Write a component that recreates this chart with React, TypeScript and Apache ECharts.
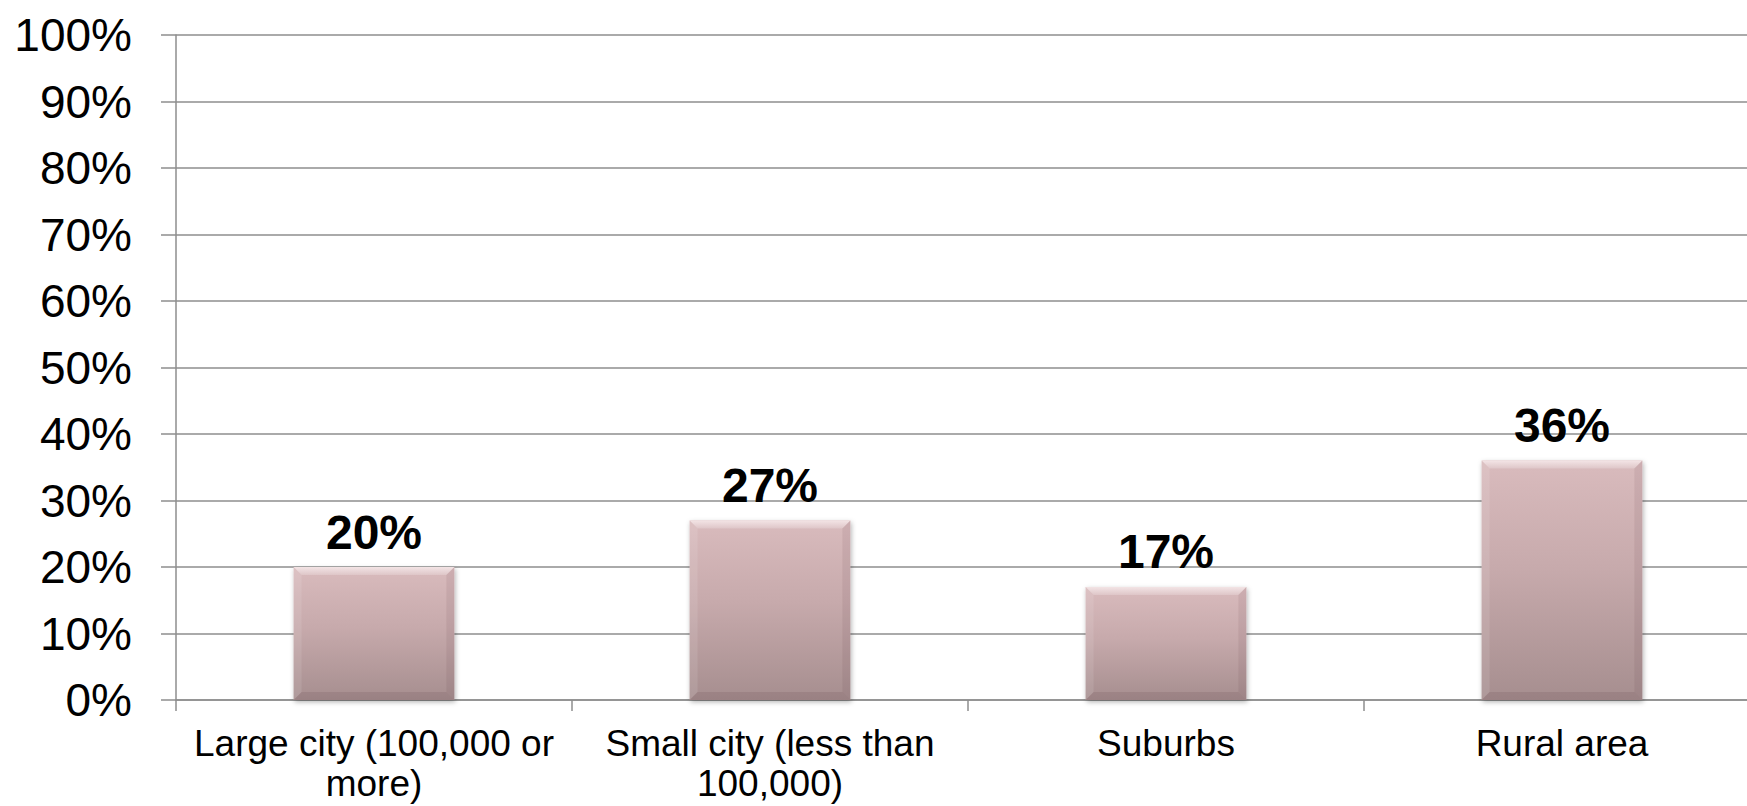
import React, { useEffect, useRef } from "react";
import * as echarts from "echarts";

// Share of respondents by type of community
const categories = [
  "Large city (100,000 or\nmore)",
  "Small city (less than\n100,000)",
  "Suburbs",
  "Rural area",
];
const shares = [20, 27, 17, 36];
const yTicks = { min: 0, max: 100, step: 10 };

const FONT = "'Liberation Sans', Arial, Helvetica, sans-serif";
const GRID_GRAY = "#8e8e8e";

export default function App() {
  const ref = useRef<HTMLDivElement>(null);

  useEffect(() => {
    if (!ref.current) return;
    const chart = echarts.init(ref.current, undefined, { renderer: "svg" });

    // Bevelled bar: face with a vertical gradient plus four edge facets
    const renderBevelBar = (params: any, api: any) => {
      const idx = api.value(0);
      const v = api.value(1);
      const top = api.coord([idx, v]);
      const base = api.coord([idx, 0]);
      const bw = api.size([1, 0])[0] * 0.406;
      const x0 = top[0] - bw / 2;
      const x1 = x0 + bw;
      const y0 = top[1];
      const y1 = base[1];
      const b = Math.min(8, (y1 - y0) / 3);
      return {
        type: "group",
        children: [
          {
            type: "rect",
            shape: { x: x0, y: y0, width: bw, height: y1 - y0 },
            style: {
              fill: new echarts.graphic.LinearGradient(0, 0, 0, 1, [
                { offset: 0, color: "#d9bbbd" },
                { offset: 0.45, color: "#c7aaac" },
                { offset: 1, color: "#a68e8f" },
              ]),
              shadowBlur: 5,
              shadowColor: "rgba(0,0,0,0.3)",
              shadowOffsetX: 1,
              shadowOffsetY: 2,
            },
          },
          {
            type: "polygon",
            shape: { points: [[x0, y0], [x1, y0], [x1 - b, y0 + b], [x0 + b, y0 + b]] },
            style: {
              fill: new echarts.graphic.LinearGradient(0, 0, 0, 1, [
                { offset: 0, color: "#f3e4e5" },
                { offset: 1, color: "#dec6c8" },
              ]),
            },
          },
          {
            type: "polygon",
            shape: { points: [[x0, y0], [x0 + b, y0 + b], [x0 + b, y1 - b], [x0, y1]] },
            style: { fill: "rgba(255,255,255,0.1)" },
          },
          {
            type: "polygon",
            shape: { points: [[x1, y0], [x1, y1], [x1 - b, y1 - b], [x1 - b, y0 + b]] },
            style: { fill: "rgba(60,30,35,0.08)" },
          },
          {
            type: "polygon",
            shape: { points: [[x0, y1], [x0 + b, y1 - b], [x1 - b, y1 - b], [x1, y1]] },
            style: { fill: "rgba(60,30,35,0.11)" },
          },
          {
            type: "text",
            style: {
              x: top[0],
              y: y0 - 11,
              text: `${v}%`,
              align: "center",
              verticalAlign: "bottom",
              fontFamily: FONT,
              fontWeight: "bold",
              fontSize: 48,
              fill: "#000",
            },
          },
        ],
      };
    };

    chart.setOption({
      animation: false,
      backgroundColor: "#ffffff",
      grid: {
        left: 176,
        width: 1584,
        top: 35,
        bottom: 106,
        containLabel: false,
        outerBoundsMode: "none",
      },
      xAxis: {
        type: "category",
        data: categories,
        axisLine: { show: true, lineStyle: { color: GRID_GRAY, width: 1.5 } },
        axisTick: { show: true, length: 11, lineStyle: { color: GRID_GRAY, width: 1.5 } },
        axisLabel: {
          interval: 0,
          margin: 23,
          color: "#000",
          fontFamily: FONT,
          fontSize: 37,
          lineHeight: 40,
        },
        splitLine: { show: false },
      },
      yAxis: {
        type: "value",
        min: yTicks.min,
        max: yTicks.max,
        interval: yTicks.step,
        axisLine: { show: true, lineStyle: { color: GRID_GRAY, width: 1.5 } },
        axisTick: { show: true, length: 15, lineStyle: { color: GRID_GRAY, width: 1.5 } },
        axisLabel: {
          formatter: "{value}%",
          margin: 44,
          color: "#000",
          fontFamily: FONT,
          fontSize: 46,
        },
        splitLine: { show: true, lineStyle: { color: GRID_GRAY, width: 1.5 } },
      },
      series: [
        {
          type: "custom",
          coordinateSystem: "cartesian2d",
          encode: { x: 0, y: 1 },
          data: shares.map((v, i) => [i, v]),
          renderItem: renderBevelBar,
          z: 3,
        },
      ],
    });

    return () => chart.dispose();
  }, []);

  return (
    <div
      ref={ref}
      style={{ position: "fixed", left: 0, top: 0, width: 1747, height: 806 }}
    />
  );
}
